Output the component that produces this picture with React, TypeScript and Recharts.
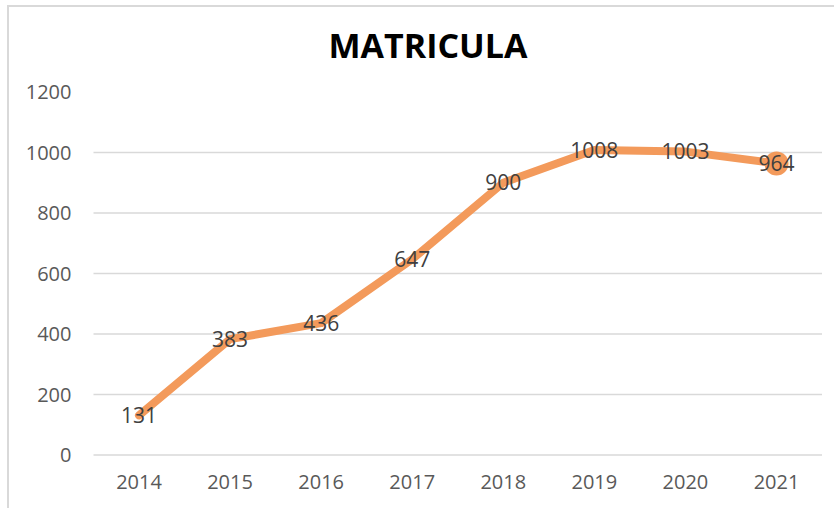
import React from 'react';
import { LineChart, Line, XAxis, YAxis, CartesianGrid, LabelList } from 'recharts';

const years = ['2014', '2015', '2016', '2017', '2018', '2019', '2020', '2021'];
const matricula = [131, 383, 436, 647, 900, 1008, 1003, 964];
const yTicks = [0, 200, 400, 600, 800, 1000, 1200];
const gridValues = [0, 200, 400, 600, 800, 1000];

const data = years.map((year, i) => ({ year, value: matricula[i] }));

const FONT = '"Open Sans", "DejaVu Sans", sans-serif';
const ORANGE = '#F39A5B';

// only the last point gets a marker, like the original
const renderDot = (props: any) => {
  const { cx, cy, index } = props;
  if (index !== data.length - 1) return <g key={`d-${index}`} />;
  return <circle key={`d-${index}`} cx={cx} cy={cy} r={12} fill={ORANGE} stroke="none" />;
};

const App: React.FC = () => {
  return (
    <div style={{ position: 'absolute', left: 0, top: 0, width: 834, height: 508, background: '#fff', overflow: 'hidden' }}>
      {/* chart frame, right & bottom edges fall outside the picture */}
      <div
        style={{
          position: 'absolute',
          left: 7,
          top: 5,
          width: 840,
          height: 520,
          border: '2px solid #d9d9d9',
          boxSizing: 'border-box',
        }}
      />
      <div
        style={{
          position: 'absolute',
          left: 0,
          top: 22,
          width: 856,
          textAlign: 'center',
          fontFamily: FONT,
          fontWeight: 700,
          fontSize: 34,
          lineHeight: '46px',
          color: '#000',
        }}
      >
        MATRICULA
      </div>
      <div style={{ position: 'absolute', left: 0, top: 0 }}>
        <LineChart width={834} height={508} data={data} margin={{ top: 92, right: 12, left: 0, bottom: 0 }}>
          <CartesianGrid vertical={false} horizontalValues={gridValues} stroke="#d9d9d9" strokeWidth={1.5} />
          <XAxis
            dataKey="year"
            height={53}
            padding={{ left: 45.5, right: 45.5 }}
            axisLine={false}
            tickLine={false}
            tickSize={0}
            tickMargin={20}
            tick={{ fontSize: 20, fill: '#595959', fontFamily: FONT }}
          />
          <YAxis
            width={93.5}
            domain={[0, 1200]}
            ticks={yTicks}
            axisLine={false}
            tickLine={false}
            tickSize={0}
            tickMargin={22}
            tick={{ fontSize: 20, fill: '#595959', fontFamily: FONT }}
          />
          <Line
            type="linear"
            dataKey="value"
            stroke={ORANGE}
            strokeWidth={8}
            strokeLinecap="round"
            strokeLinejoin="round"
            dot={renderDot}
            activeDot={false}
            isAnimationActive={false}
          >
            <LabelList dataKey="value" position="center" fill="#404040" fontSize={21} fontFamily={FONT} />
          </Line>
        </LineChart>
      </div>
    </div>
  );
};

export default App;
